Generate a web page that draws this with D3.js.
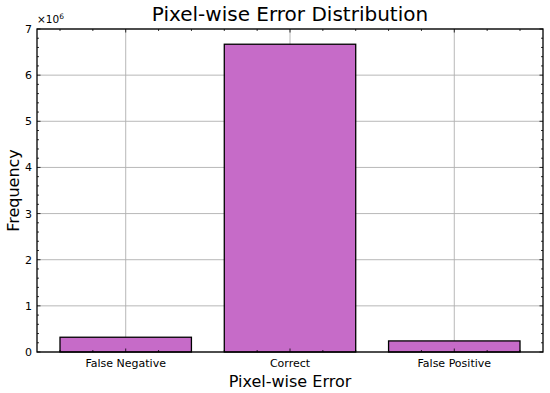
<!DOCTYPE html>
<html>
<head>
<meta charset="utf-8">
<script src="https://cdn.jsdelivr.net/npm/d3@7"></script>
<style>
  body { margin: 0; background: #fff; }
  text { font-family: "DejaVu Sans", sans-serif; fill: #000; }
</style>
</head>
<body>
<svg width="550" height="393"></svg>
<script>
// data
var categories = ["False Negative", "Correct", "False Positive"];
var counts = [320000, 6670000, 240000];
var yTicks = [0, 1, 2, 3, 4, 5, 6, 7];

var svg = d3.select("svg"),
    margin = {left: 37, right: 7, top: 29, bottom: 41},
    W = 550, H = 393,
    x0 = margin.left, x1 = W - margin.right,
    y0 = H - margin.bottom, y1 = margin.top;

// matplotlib-like positions: bars at 0,1,2 with width 0.8, 5% margins
var x = d3.scaleLinear().domain([-0.54, 2.54]).range([x0, x1]);
var y = d3.scaleLinear().domain([0, 7e6]).range([y0, y1]);

var grid = svg.append("g").attr("stroke", "#b0b0b0").attr("stroke-width", 0.9);
categories.forEach(function(c, i) {
  grid.append("line").attr("x1", x(i)).attr("x2", x(i)).attr("y1", y0).attr("y2", y1);
});
yTicks.forEach(function(t) {
  grid.append("line").attr("x1", x0).attr("x2", x1).attr("y1", y(t * 1e6)).attr("y2", y(t * 1e6));
});

// bars
svg.append("g").selectAll("rect")
  .data(counts)
  .enter().append("rect")
    .attr("x", function(d, i) { return x(i - 0.4); })
    .attr("width", function(d, i) { return x(i + 0.4) - x(i - 0.4); })
    .attr("y", function(d) { return y(d); })
    .attr("height", function(d) { return y0 - y(d); })
    .attr("fill", "#c66bc8")
    .attr("stroke", "#000")
    .attr("stroke-width", 1.3);

// ticks (inward, all sides)
var tk = svg.append("g").attr("stroke", "#000").attr("stroke-width", 0.8);
d3.range(-0.4, 2.5, 0.2).forEach(function(v) {
  var major = Math.abs(v - Math.round(v)) < 1e-6;
  var len = major ? 3.5 : 2;
  tk.append("line").attr("x1", x(v)).attr("x2", x(v)).attr("y1", y0).attr("y2", y0 - len);
  tk.append("line").attr("x1", x(v)).attr("x2", x(v)).attr("y1", y1).attr("y2", y1 + len);
});
d3.range(0, 7.01, 0.2).forEach(function(v) {
  var major = Math.abs(v - Math.round(v)) < 1e-6;
  var len = major ? 3.5 : 2;
  tk.append("line").attr("x1", x0).attr("x2", x0 + len).attr("y1", y(v * 1e6)).attr("y2", y(v * 1e6));
  tk.append("line").attr("x1", x1).attr("x2", x1 - len).attr("y1", y(v * 1e6)).attr("y2", y(v * 1e6));
});

// frame
svg.append("rect").attr("x", x0).attr("y", y1).attr("width", x1 - x0).attr("height", y0 - y1)
  .attr("fill", "none").attr("stroke", "#000").attr("stroke-width", 1.3);

// tick labels
svg.append("g").selectAll("text").data(yTicks).enter().append("text")
  .attr("x", x0 - 5).attr("y", function(d) { return y(d * 1e6) + 4; })
  .attr("text-anchor", "end").attr("font-size", 11).text(function(d) { return d; });
svg.append("g").selectAll("text").data(categories).enter().append("text")
  .attr("x", function(d, i) { return x(i); }).attr("y", y0 + 15)
  .attr("text-anchor", "middle").attr("font-size", 11).text(function(d) { return d; });

// offset text
var off = svg.append("text").attr("x", x0).attr("y", 23).attr("font-size", 10.5);
off.append("tspan").text("×10");
off.append("tspan").attr("dy", -4).attr("font-size", 7.5).text("6");

// titles
svg.append("text").attr("x", (x0 + x1) / 2).attr("y", 21).attr("text-anchor", "middle")
  .attr("font-size", 20).text("Pixel-wise Error Distribution");
svg.append("text").attr("x", (x0 + x1) / 2).attr("y", 387).attr("text-anchor", "middle")
  .attr("font-size", 16).text("Pixel-wise Error");
svg.append("text").attr("transform", "translate(19," + ((y0 + y1) / 2) + ") rotate(-90)")
  .attr("text-anchor", "middle").attr("font-size", 16).text("Frequency");
</script>
</body>
</html>
